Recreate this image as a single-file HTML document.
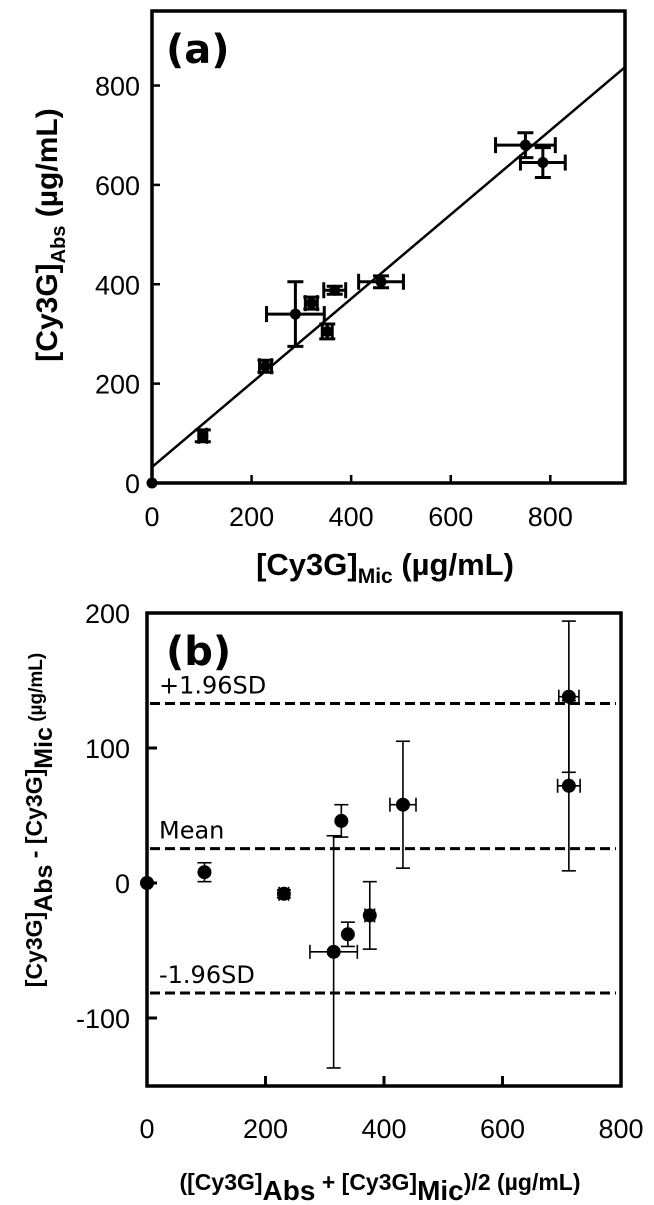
<!DOCTYPE html>
<html><head><meta charset="utf-8">
<style>
html,body{margin:0;padding:0;background:#fff;}
svg{display:block;font-family:"Liberation Sans",Arial,sans-serif;}
</style></head>
<body>
<svg id="chart" width="654" height="1205" viewBox="0 0 654 1205" xmlns="http://www.w3.org/2000/svg"></svg>
<script>
// Panel (a) data
const aX = [0, 102, 228, 288, 320, 367, 352, 460, 750, 785];
const aY = [0, 95, 235, 340, 362, 388, 305, 405, 680, 645];
const aXErr = [0, 8, 12, 58, 12, 22, 10, 45, 60, 45];
const aYErr = [0, 12, 12, 65, 12, 8, 15, 12, 25, 30];
const aFit = [0, 32, 950, 837];
const aXTicks = [0, 200, 400, 600, 800];
const aYTicks = [0, 200, 400, 600, 800];
// Panel (b) data
const bX = [0, 97, 231, 315, 328, 339, 376, 432, 712, 712];
const bY = [0, 8, -8, -51, 46, -38, -24, 58, 138, 72];
const bXErr = [0, 0, 8, 40, 0, 0, 8, 22, 17, 19];
const bYErr = [0, 7, 3, 86, 12, 9, 25, 47, 56, 63];
const bLines = [133, 25.5, -81.5];
const bLineLabels = ["+1.96SD", "Mean", "-1.96SD"];
const bXTicks = [0, 200, 400, 600, 800];
const bYTicks = [-100, 0, 100, 200];

const NS = "http://www.w3.org/2000/svg";
const svg = document.getElementById('chart');
function mk(tag, attrs, parent, text){
  const e = document.createElementNS(NS, tag);
  for (const k in attrs) e.setAttribute(k, attrs[k]);
  if (text !== undefined) e.textContent = text;
  (parent || svg).appendChild(e);
  return e;
}
const ax = v => 152 + v * (625 - 152) / 950;
const ay = v => 483 - v * (483 - 11) / 950;
const bx = v => 147 + v * (621 - 147) / 800;
const by = v => 883 - v * 1.35;

// ---------- Panel a ----------
const ga = mk('g', {});


aXTicks.forEach(t => {
  const l = mk('line', {x1: ax(t), x2: ax(t), y1: 483, y2: 475, stroke: '#000', 'stroke-width': 2.5}, ga);
  
  
  const tx = mk('text', {x: ax(t), y: 526, 'font-size': 27, 'text-anchor': 'middle'}, ga, String(t));
  
  
});
aYTicks.forEach(t => {
  const l = mk('line', {x1: 152, x2: 160, y1: ay(t), y2: ay(t), stroke: '#000', 'stroke-width': 2.5}, ga);
  
  
  const tx = mk('text', {x: 140, y: ay(t) + 10, 'font-size': 27, 'text-anchor': 'end'}, ga, String(t));
  
  
});
const fit = mk('line', {x1: ax(aFit[0]), y1: ay(aFit[1]), x2: ax(aFit[2]), y2: ay(aFit[3]), stroke: '#000', 'stroke-width': 2.5}, ga);


aX.forEach((v, i) => {
  const g = mk('g', {}, ga);
  
  
  const cx = ax(v), cy = ay(aY[i]);
  if (aXErr[i] > 0) {
    const x1 = ax(v - aXErr[i]), x2 = ax(v + aXErr[i]);
    mk('line', {x1: x1, x2: x2, y1: cy, y2: cy, stroke: '#000', 'stroke-width': 3}, g);
    mk('line', {x1: x1, x2: x1, y1: cy - 8, y2: cy + 8, stroke: '#000', 'stroke-width': 3}, g);
    mk('line', {x1: x2, x2: x2, y1: cy - 8, y2: cy + 8, stroke: '#000', 'stroke-width': 3}, g);
  }
  if (aYErr[i] > 0) {
    const y1 = ay(aY[i] - aYErr[i]), y2 = ay(aY[i] + aYErr[i]);
    mk('line', {x1: cx, x2: cx, y1: y1, y2: y2, stroke: '#000', 'stroke-width': 3}, g);
    mk('line', {x1: cx - 8, x2: cx + 8, y1: y1, y2: y1, stroke: '#000', 'stroke-width': 3}, g);
    mk('line', {x1: cx - 8, x2: cx + 8, y1: y2, y2: y2, stroke: '#000', 'stroke-width': 3}, g);
  }
  mk('circle', {cx: cx, cy: cy, r: 5.5, fill: '#000'}, g);
});
const fa = mk('rect', {x: 152, y: 11, width: 473, height: 472, fill: 'none', stroke: '#000', 'stroke-width': 3.5}, ga);



// ---------- Panel b ----------
const gb = mk('g', {});


bXTicks.forEach(t => {
  const l = mk('line', {x1: bx(t), x2: bx(t), y1: 1086, y2: 1076, stroke: '#000', 'stroke-width': 3}, gb);
  
  
  const tx = mk('text', {x: bx(t), y: 1138, 'font-size': 27, 'text-anchor': 'middle'}, gb, String(t));
  
  
});
bYTicks.forEach(t => {
  const l = mk('line', {x1: 147, x2: 157, y1: by(t), y2: by(t), stroke: '#000', 'stroke-width': 3}, gb);
  
  
  const tx = mk('text', {x: 130, y: by(t) + 10, 'font-size': 27, 'text-anchor': 'end'}, gb, String(t));
  
  
});
bLines.forEach((v, i) => {
  const l = mk('line', {x1: 150, x2: 616, y1: by(v), y2: by(v), stroke: '#000', 'stroke-width': 3, 'stroke-dasharray': '10,5'}, gb);
  
  
  const tx = mk('text', {x: 159, y: by(v) - 10, 'font-size': 24, 'font-family': '"DejaVu Sans","Liberation Sans",sans-serif'}, gb, bLineLabels[i]);
  
  
});
bX.forEach((v, i) => {
  const g = mk('g', {}, gb);
  
  
  const cx = bx(v), cy = by(bY[i]);
  if (bXErr[i] > 0) {
    const x1 = bx(v - bXErr[i]), x2 = bx(v + bXErr[i]);
    mk('line', {x1: x1, x2: x2, y1: cy, y2: cy, stroke: '#000', 'stroke-width': 1.6}, g);
    mk('line', {x1: x1, x2: x1, y1: cy - 7, y2: cy + 7, stroke: '#000', 'stroke-width': 1.6}, g);
    mk('line', {x1: x2, x2: x2, y1: cy - 7, y2: cy + 7, stroke: '#000', 'stroke-width': 1.6}, g);
  }
  if (bYErr[i] > 0) {
    const y1 = by(bY[i] - bYErr[i]), y2 = by(bY[i] + bYErr[i]);
    mk('line', {x1: cx, x2: cx, y1: y1, y2: y2, stroke: '#000', 'stroke-width': 1.6}, g);
    mk('line', {x1: cx - 7, x2: cx + 7, y1: y1, y2: y1, stroke: '#000', 'stroke-width': 1.6}, g);
    mk('line', {x1: cx - 7, x2: cx + 7, y1: y2, y2: y2, stroke: '#000', 'stroke-width': 1.6}, g);
  }
  mk('circle', {cx: cx, cy: cy, r: 7, fill: '#000'}, g);
});
const fb = mk('rect', {x: 147, y: 613, width: 474, height: 473, fill: 'none', stroke: '#000', 'stroke-width': 3.5}, gb);


</script>
<script>
(function(){
const NS = "http://www.w3.org/2000/svg";
const svg = document.getElementById('chart');
const g = document.createElementNS(NS,'g');
g.innerHTML =
'<text x="166" y="63" font-size="40" font-weight="bold" font-family="DejaVu Sans, Liberation Sans, sans-serif">(a)</text>' +
'<text x="166" y="665" font-size="40" font-weight="bold" font-family="DejaVu Sans, Liberation Sans, sans-serif">(b)</text>' +
'<text x="385" y="575" font-size="31" font-weight="bold" text-anchor="middle">[Cy3G]<tspan font-size="21" dy="8">Mic</tspan><tspan dy="-8"> (µg/mL)</tspan></text>' +
'<text transform="translate(57,235) rotate(-90)" font-size="30" font-weight="bold" text-anchor="middle">[Cy3G]<tspan font-size="20" dy="8">Abs</tspan><tspan dy="-8"> (µg/mL)</tspan></text>' +
'<text transform="translate(42,820) rotate(-90)" font-size="23" font-weight="bold" text-anchor="middle">[Cy3G]<tspan font-size="25" dy="10">Abs</tspan><tspan dy="-10"> - [Cy3G]</tspan><tspan font-size="25" dy="10">Mic</tspan><tspan dy="-10" font-size="19"> (µg/mL)</tspan></text>' +
'<text x="380" y="1190" font-size="23" font-weight="bold" text-anchor="middle">([Cy3G]<tspan font-size="28" dy="10">Abs</tspan><tspan dy="-10"> + [Cy3G]</tspan><tspan font-size="28" dy="10">Mic</tspan><tspan dy="-10">)/2 (µg/mL)</tspan></text>';


svg.appendChild(g);
})();
</script>
</body></html>
